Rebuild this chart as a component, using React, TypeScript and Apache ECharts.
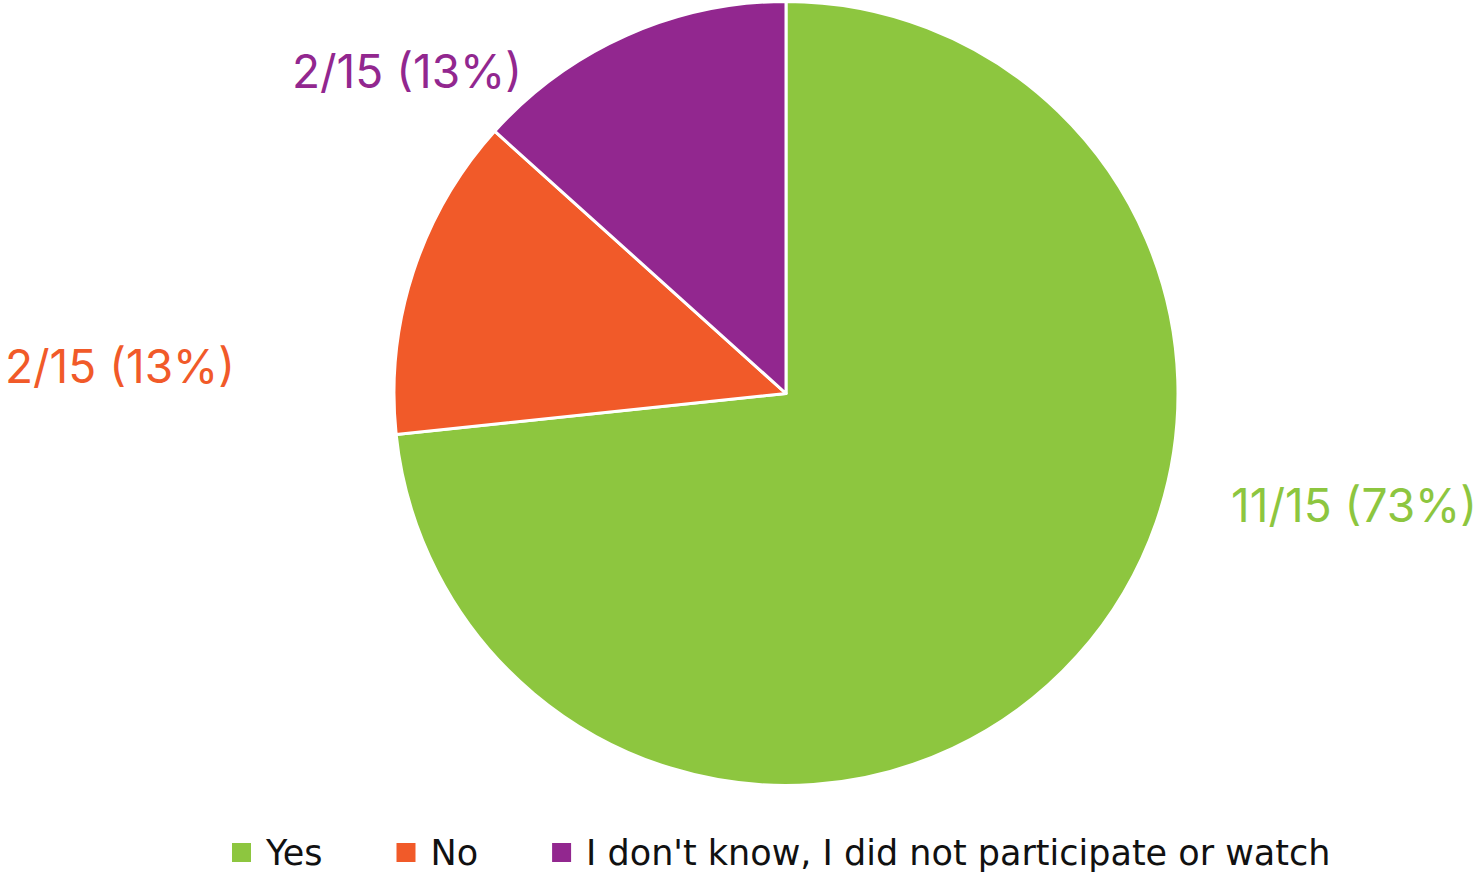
import React, { useEffect, useRef } from "react";
import * as echarts from "echarts";

const categories = ["Yes", "No", "I don't know, I did not participate or watch"];
const counts = [11, 2, 2];
const colors = ["#8DC63F", "#F15A29", "#92278F"];
const labelTexts = ["11/15 (73%)", "2/15 (13%)", "2/15 (13%)"];

// label anchor positions (layout, not data)
const labelPos: [number, number][] = [
  [1354, 505],
  [120, 366],
  [407, 71],
];

const FONT = "Inter, 'Noto Sans', sans-serif";
const LEGEND_FONT = "'DejaVu Sans', sans-serif";

export default function App() {
  const ref = useRef<HTMLDivElement>(null);
  useEffect(() => {
    document.body.style.margin = "0";
    const chart = echarts.init(ref.current!, null, { renderer: "svg" });
    chart.setOption({
      animation: false,
      backgroundColor: "#ffffff",
      legend: {
        top: 835,
        left: 230,
        padding: 0,
        icon: "rect",
        itemWidth: 21,
        itemHeight: 21,
        itemGap: 72,
        textStyle: {
          fontFamily: LEGEND_FONT,
          fontSize: 35,
          lineHeight: 34,
          color: "#111111",
          padding: [0, 0, 0, 9],
        },
        data: categories,
      },
      series: [
        {
          type: "pie",
          center: [786, 393.5],
          radius: 392,
          startAngle: 90,
          clockwise: true,
          itemStyle: { borderColor: "#ffffff", borderWidth: 3 },
          label: {
            show: true,
            position: "outside",
            fontFamily: FONT,
            fontSize: 46,
            formatter: (p: any) => labelTexts[p.dataIndex],
          },
          labelLine: { show: false },
          labelLayout: (p: any) => ({
            x: labelPos[p.dataIndex][0],
            y: labelPos[p.dataIndex][1],
            align: "center",
            verticalAlign: "middle",
          }),
          emphasis: { disabled: true },
          data: categories.map((c, i) => ({
            name: c,
            value: counts[i],
            itemStyle: { color: colors[i] },
            label: { color: colors[i] },
          })),
        },
      ],
    });
    return () => chart.dispose();
  }, []);
  return (
    <div
      ref={ref}
      style={{ position: "fixed", left: 0, top: 0, width: 1478, height: 872 }}
    />
  );
}
